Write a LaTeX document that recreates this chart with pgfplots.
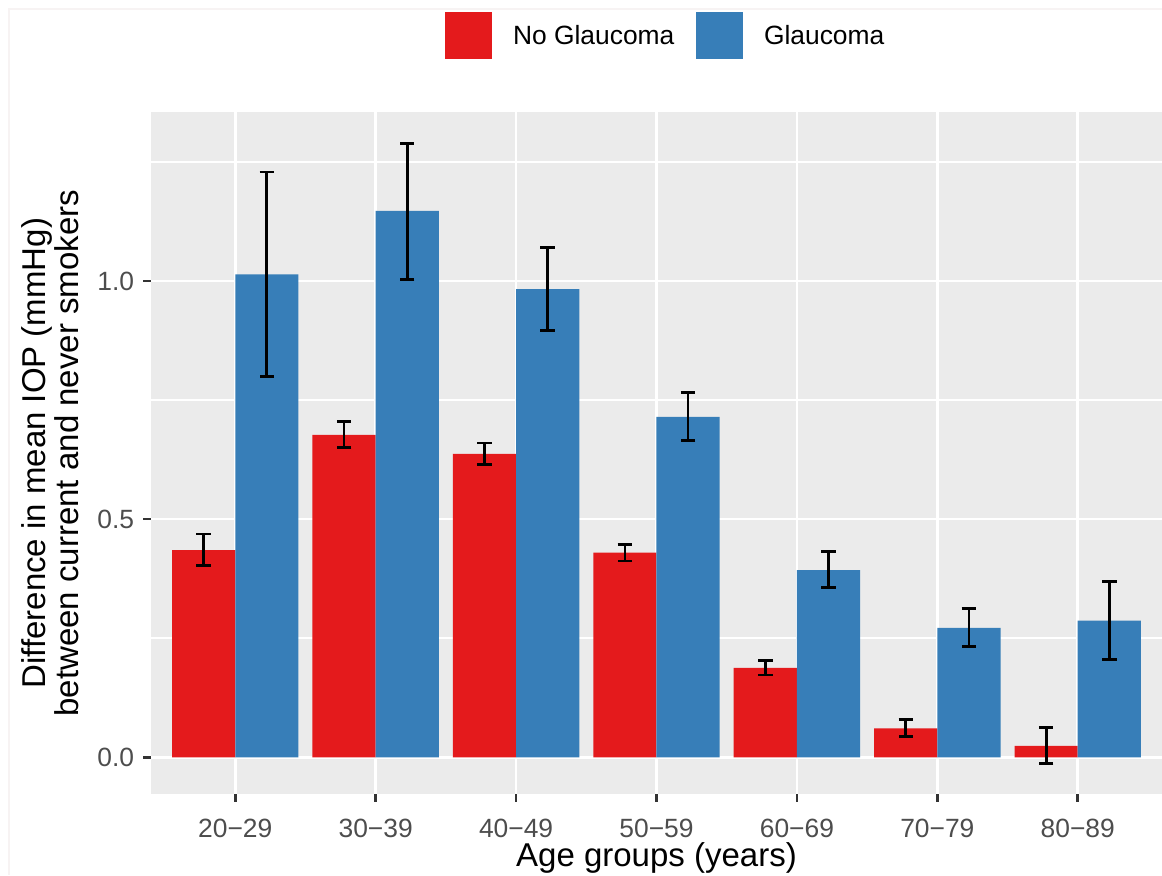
\documentclass[border=0pt]{standalone}
\usepackage{fontspec}
\setmainfont{Liberation Sans}
\usepackage{pgfplots}
\pgfplotsset{compat=1.18}
\usepackage{pgfplotstable}
\definecolor{nog}{HTML}{E41A1C}
\definecolor{gla}{HTML}{377EB8}
\definecolor{panel}{HTML}{EBEBEB}
\definecolor{tickc}{HTML}{333333}
\definecolor{ticklab}{HTML}{4D4D4D}
\definecolor{frame}{HTML}{F7F3F3}

% No Glaucoma
\pgfplotstableread{
x y ep em
0 0.435 0.034 0.033
1 0.677 0.028 0.026
2 0.637 0.023 0.022
3 0.430 0.017 0.018
4 0.188 0.016 0.015
5 0.061 0.018 0.017
6 0.024 0.039 0.037
}\nogtab
% Glaucoma
\pgfplotstableread{
x y ep em
0 1.014 0.215 0.215
1 1.147 0.142 0.143
2 0.983 0.088 0.087
3 0.715 0.051 0.050
4 0.393 0.039 0.037
5 0.272 0.041 0.040
6 0.287 0.082 0.082
}\glatab

\begin{document}
\begin{tikzpicture}
\useasboundingbox (0,0) rectangle (581pt,437.5pt);
\draw[frame, line width=0.8pt] (4.5pt,0) -- (4.5pt,433pt) -- (581pt,433pt);
\begin{axis}[
  name=main,
  at={(75.5pt,40.5pt)}, anchor=south west,
  scale only axis, width=505.5pt, height=340.8pt,
  xmin=-0.6, xmax=6.6, ymin=-0.077, ymax=1.354,
  axis background/.style={fill=panel},
  axis line style={draw=none},
  ybar, bar width=0.45,
  xtick={0,1,2,3,4,5,6},
  xticklabels={20−29,30−39,40−49,50−59,60−69,70−79,80−89},
  ytick={0,0.5,1}, yticklabels={0.0,0.5,1.0},
  minor ytick={0.25,0.75,1.25},
  xmajorgrids, ymajorgrids, yminorgrids,
  major grid style={white, line width=1.25pt},
  minor grid style={white, line width=0.85pt},
  tick align=outside, tick pos=left,
  major tick length=3.8pt, minor tick length=0pt,
  tick style={tickc, line width=1.25pt},
  xticklabel style={font=\fontsize{13.2}{15}\selectfont, text=ticklab, anchor=north, inner sep=0pt, yshift=-8.35pt},
  yticklabel style={font=\fontsize{13.2}{15}\selectfont, text=ticklab, anchor=east, inner sep=0pt, xshift=-4.45pt},
  legend style={at={(axis description cs:0.2908,1.1121)}, anchor=west, draw=none, fill=none,
    inner sep=0pt, outer sep=0pt, font=\fontsize{13.2}{15}\selectfont,
    /tikz/every odd column/.append style={column sep=10.5pt},
    /tikz/every even column/.append style={column sep=10.8pt},
    nodes={inner sep=0pt}},
  legend columns=-1,
  legend image code/.code={\fill[#1] (0pt,-11.75pt) rectangle (23.5pt,11.75pt);},
]
\addplot[fill=nog, draw=none, bar shift=-0.225,
  error bars/.cd, y dir=both, y explicit, error mark=|,
  error bar style={draw=black, line width=1.4pt},
  error mark options={draw=black, line width=1.4pt, mark size=3.6pt}]
  table[x=x, y=y, y error plus=ep, y error minus=em] {\nogtab};
\addlegendentry{No Glaucoma}
\addplot[fill=gla, draw=none, bar shift=0.225,
  error bars/.cd, y dir=both, y explicit, error mark=|,
  error bar style={draw=black, line width=1.4pt},
  error mark options={draw=black, line width=1.4pt, mark size=3.6pt}]
  table[x=x, y=y, y error plus=ep, y error minus=em] {\glatab};
\addlegendentry{Glaucoma}
\end{axis}
\path (main.south) ++(0pt,-36.25pt) node[anchor=base, font=\fontsize{16.5}{18}\selectfont] {Age groups (years)};
\path (main.west) ++(-36pt,0pt) node[rotate=90, anchor=south, align=center, inner sep=0pt, font=\fontsize{16.5}{15}\selectfont] {Difference in mean IOP (mmHg)\\between current and never smokers};
\end{tikzpicture}
\end{document}
